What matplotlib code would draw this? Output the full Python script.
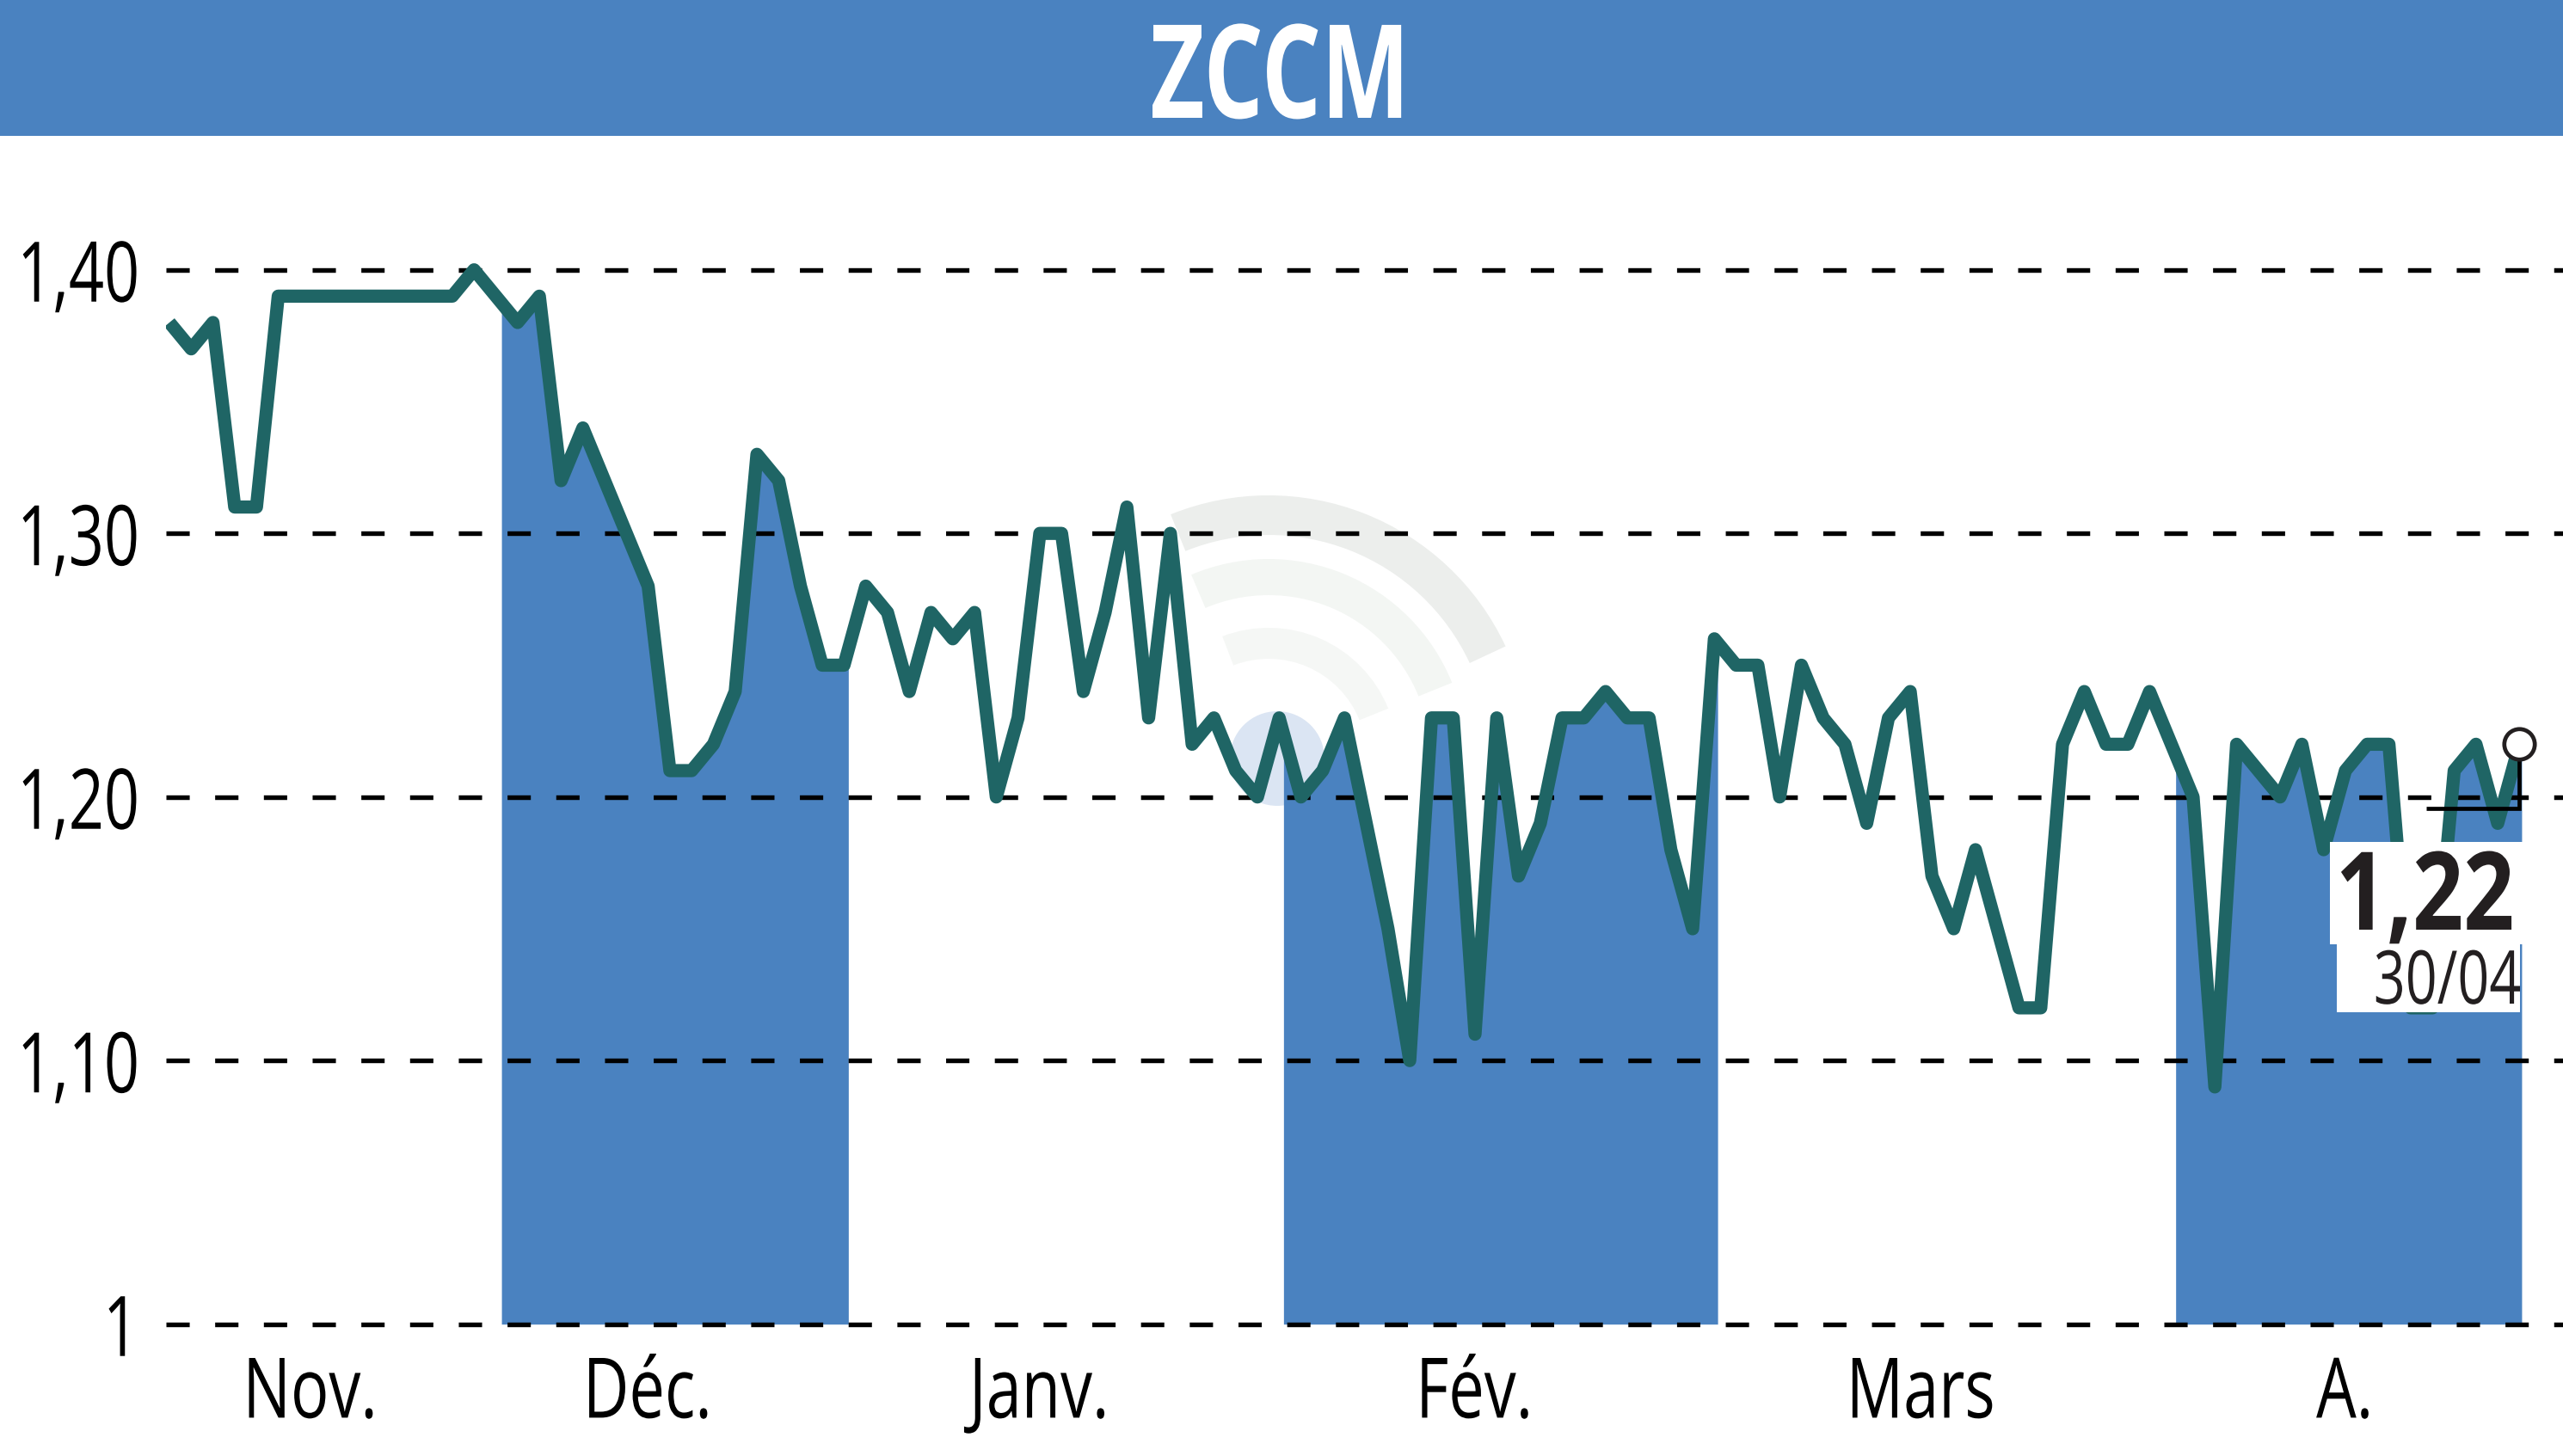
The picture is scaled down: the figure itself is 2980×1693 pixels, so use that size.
import numpy as np
import matplotlib
matplotlib.use("Agg")
import matplotlib.pyplot as plt
from matplotlib.patches import Rectangle, Wedge, Circle
from matplotlib.patheffects import AbstractPathEffect
from matplotlib.text import Text
from matplotlib.transforms import Affine2D, Bbox, IdentityTransform

title = "ZCCM"
values = [1.38,1.37,1.38,1.31,1.31,1.39,1.39,1.39,1.39,1.39,1.39,1.39,1.39,1.39,1.40,1.39,1.38,1.39,
          1.32,1.34,1.32,1.30,1.28,1.21,1.21,1.22,1.24,1.33,1.32,1.28,1.25,1.25,1.28,1.27,1.24,1.27,
          1.26,1.27,1.20,1.23,1.30,1.30,1.24,1.27,1.31,1.23,1.30,1.22,1.23,1.21,1.20,1.23,1.20,1.21,
          1.23,1.19,1.15,1.10,1.23,1.23,1.11,1.23,1.17,1.19,1.23,1.23,1.24,1.23,1.23,1.18,1.15,1.26,
          1.25,1.25,1.20,1.25,1.23,1.22,1.19,1.23,1.24,1.17,1.15,1.18,1.15,1.12,1.12,1.22,1.24,1.22,
          1.22,1.24,1.22,1.20,1.09,1.22,1.21,1.20,1.22,1.18,1.21,1.22,1.22,1.12,1.12,1.21,1.22,1.19,1.22]
month_labels = ["Nov.", "Déc.", "Janv.", "Fév.", "Mars", "A."]
month_positions = [6.5, 22, 40, 60, 80.5, 100]
bands = [(15.26, 31.2), (51.2, 71.15), (92.2, 108.1)]
y_ticks = [1.0, 1.1, 1.2, 1.3, 1.4]
y_tick_labels = ["1", "1,10", "1,20", "1,30", "1,40"]
last_value_label = "1,22"
last_date_label = "30/04"

W, H = 2980, 1693
BLUE = "#4a82c0"
LINE = "#1f6565"
plt.rcParams["font.family"] = ["Open Sans", "Liberation Sans", "DejaVu Sans"]


class SqueezeX(AbstractPathEffect):
    """Reshape the glyphs, since no condensed font is installed."""
    def __init__(self, sx, anchor, sy=1.0):
        super().__init__()
        self.sx, self.anchor, self.sy = sx, anchor, sy

    def draw_path(self, renderer, gc, tpath, affine, rgbFace=None):
        a = self.anchor * tpath.get_extents().x1
        b = 36.0  # mid digit height, in glyph path units
        t = (Affine2D().translate(-a, -b).scale(self.sx, self.sy).translate(a, b) + affine)
        renderer.draw_path(gc, tpath, t, rgbFace)


class CondText(Text):
    def get_window_extent(self, renderer=None, dpi=None):
        bb = super().get_window_extent(renderer, dpi)
        a = bb.x0 + self._anchor * bb.width
        return Bbox.from_extents(a - (a - bb.x0) * self._sx, bb.y0, a + (bb.x1 - a) * self._sx, bb.y1)


def squeeze(text, sx, sy=1.0):
    anchor = {"left": 0.0, "center": 0.5, "right": 1.0}[text.get_ha()]
    text.__class__ = CondText
    text._sx, text._anchor = sx, anchor
    text.set_path_effects([SqueezeX(sx, anchor, sy)])
    return text


fig = plt.figure(figsize=(W / 100, H / 100), dpi=100, facecolor="white")
STEP = 25.3
X0 = 197
AX_L, AX_T, AX_B = 193, 158, 1539.7
ax = fig.add_axes([AX_L / W, 1 - AX_B / H, 1 - AX_L / W, (AX_B - AX_T) / H])
ax.set_xlim((AX_L - X0) / STEP, (W - X0) / STEP)
ax.set_ylim(1.0, 1.0 + (AX_B - AX_T) / 3065)
ax.patch.set_alpha(0)
for s in ax.spines.values():
    s.set_visible(False)

x = np.arange(len(values))
y = np.array(values)

# header
fig.add_artist(Rectangle((0, 1 - 158 / H), 1, 158 / H, transform=fig.transFigure, color=BLUE, lw=0))
squeeze(fig.text(0.5, 1 - 137 / H, title, color="white", fontsize=109, fontweight="bold",
                 ha="center", va="baseline"), 0.72)

# watermark
idt = IdentityTransform()
cx, cy = 1475, H - 880
for r, w, a, b, c in [(304, 46, 25, 112, "#eceeec"), (230, 42, 22, 113, "#f3f6f3"), (150, 36, 22, 111, "#f5f7f5")]:
    fig.add_artist(Wedge((cx, cy), r, a, b, width=w, transform=idt, color=c, lw=0, zorder=-5))
fig.add_artist(Circle((1485, H - 882), 55, transform=idt, color="#dbe5f3", lw=0, zorder=-5))

# month bands under the line
for a, b in bands:
    xs = np.union1d(x[(x > a) & (x < b)], [a, b])
    ax.fill_between(xs, np.interp(xs, x, y), 1.0, color=BLUE, lw=0, zorder=1)

ax.set_yticks(y_ticks, y_tick_labels)
ax.set_xticks(month_positions, month_labels)
ax.grid(True, axis="y", color="black", lw=3.9, linestyle=(0, (5, 5.46)), zorder=2)
ax.set_axisbelow(False)
for gl in ax.get_ygridlines():
    gl.set_zorder(2)
    gl.set_clip_on(False)
ax.tick_params(axis="y", length=0, pad=22, labelsize=56, labelcolor="black")
ax.tick_params(axis="x", length=0, pad=25, labelsize=70, labelcolor="black")
for t in ax.yaxis.get_major_ticks():
    squeeze(t.label1, 0.925, 1.25)
for t in ax.xaxis.get_major_ticks():
    squeeze(t.label1, 0.76)

ax.plot(x, y, color=LINE, lw=11, solid_joinstyle="round", solid_capstyle="butt", zorder=3)

# last value label
for px, py, pw, ph in [(2709, 979, 224, 119), (2717, 1098, 213, 79)]:
    ax.add_patch(Rectangle((px, H - py - ph), pw, ph, transform=idt, color="white", lw=0, zorder=4, clip_on=False))
squeeze(fig.text(2924 / W, 1 - 1081 / H, last_value_label, color="#231f20", fontsize=91, fontweight="bold",
                 ha="right", va="baseline", zorder=6), 0.82)
squeeze(fig.text(2932 / W, 1 - 1167 / H, last_date_label, color="#231f20", fontsize=62,
                 ha="right", va="baseline", zorder=6), 0.75)
ax.plot([103.7, x[-1], x[-1]], [1.1957, 1.1957, y[-1]], color="black", lw=3.4,
        solid_joinstyle="miter", solid_capstyle="butt", zorder=5)
ax.plot([x[-1]], [y[-1]], "o", ms=25.5, mfc="white", mec="#231f20", mew=3.4, zorder=5)

fig.savefig("out.png", dpi=100, facecolor="white")
